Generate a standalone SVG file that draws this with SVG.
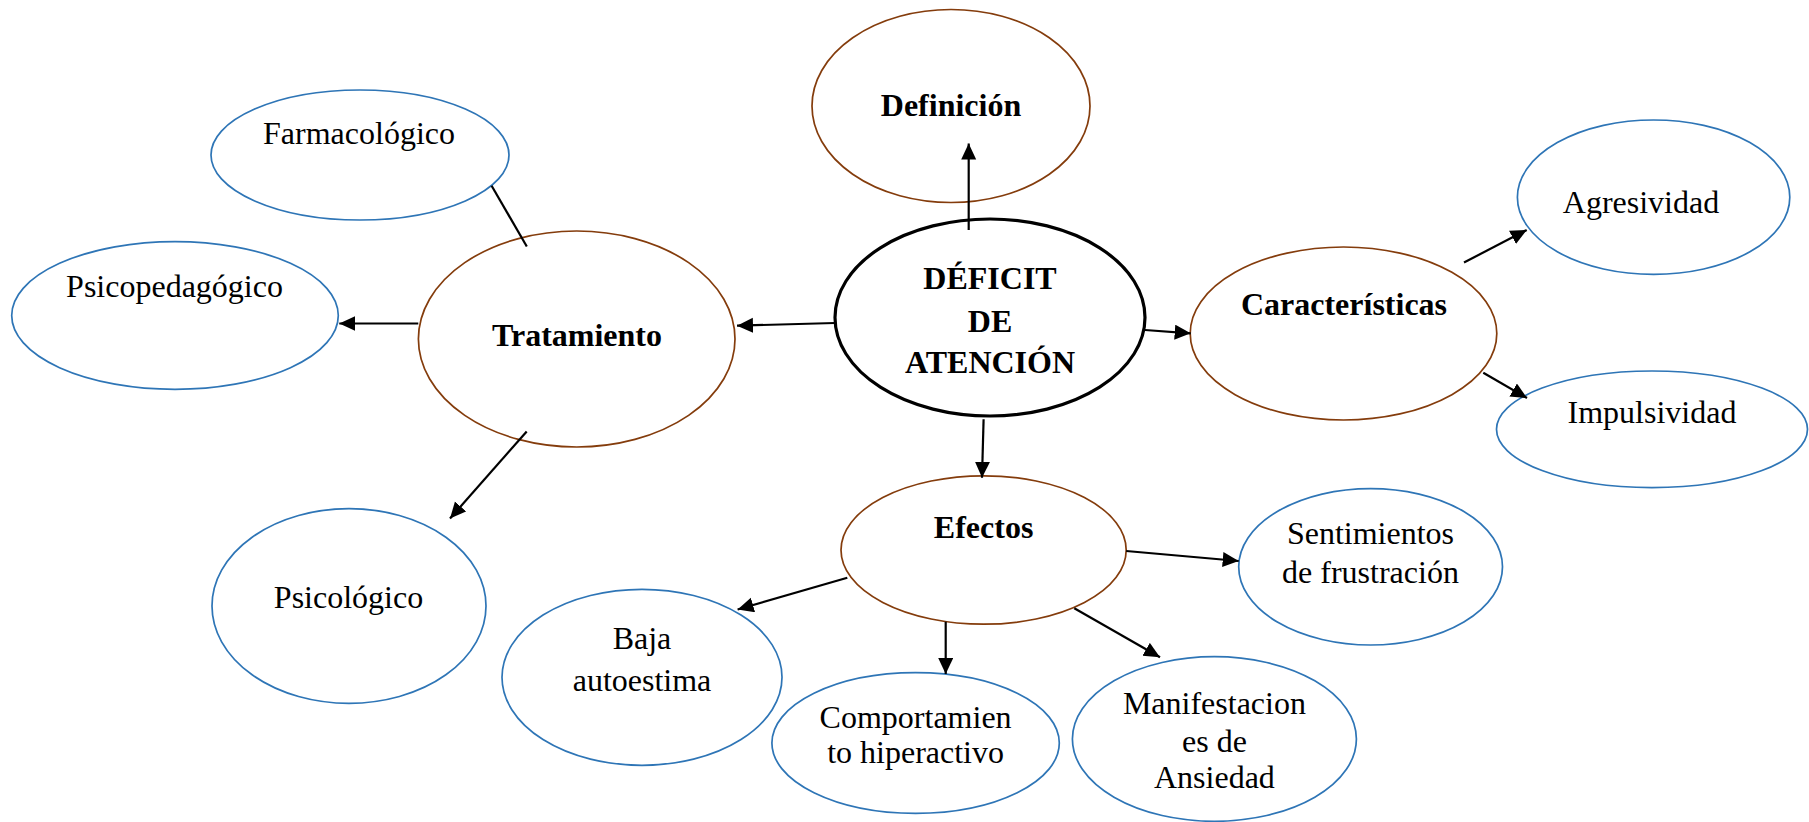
<svg xmlns="http://www.w3.org/2000/svg" width="1809" height="822" viewBox="0 0 1809 822">
<defs>
<marker id="ah" markerUnits="userSpaceOnUse" markerWidth="18" markerHeight="16" refX="16" refY="7.5" orient="auto">
<path d="M0,0 L16,7.5 L0,15 z" fill="#000"/>
</marker>
<style>
.br{fill:#fff;stroke:#843C0C;stroke-width:1.7}
.bl{fill:#fff;stroke:#2E75B6;stroke-width:1.7}
.ct{fill:#fff;stroke:#000;stroke-width:3.2}
text{font-family:"Liberation Serif","Times New Roman",serif;font-size:32px;fill:#000;text-anchor:middle}
.b{font-weight:bold}
.ln{stroke:#000;stroke-width:2.2;fill:none}
.ar{stroke:#000;stroke-width:2.2;fill:none;marker-end:url(#ah)}
</style>
</defs>
<rect width="1809" height="822" fill="#fff"/>
<g id="definicion"><ellipse class="br" cx="951" cy="106" rx="139" ry="96.5"/><text class="b" x="951" y="116">Definición</text></g>
<g id="farmacologico"><ellipse class="bl" cx="360" cy="155" rx="149" ry="65"/><text x="359" y="143.5">Farmacológico</text></g>
<g id="psicopedagogico"><ellipse class="bl" cx="175" cy="315.5" rx="163.3" ry="73.8"/><text x="174.5" y="296.7">Psicopedagógico</text></g>
<g id="tratamiento"><ellipse class="br" cx="576.7" cy="339" rx="158.3" ry="108"/><text class="b" x="577" y="346">Tratamiento</text></g>
<g id="psicologico"><ellipse class="bl" cx="349" cy="606" rx="137" ry="97.3"/><text x="348.5" y="608.3">Psicológico</text></g>
<g id="deficit"><ellipse class="ct" cx="990" cy="317.5" rx="155" ry="98.5"/><text class="b" x="990" y="289">DÉFICIT</text><text class="b" x="990" y="331.5">DE</text><text class="b" x="990" y="373">ATENCIÓN</text></g>
<g id="caracteristicas"><ellipse class="br" cx="1343.5" cy="333.5" rx="153.3" ry="86.5"/><text class="b" x="1344" y="315">Características</text></g>
<g id="agresividad"><ellipse class="bl" cx="1653.6" cy="197.2" rx="136.2" ry="77.2"/><text x="1641" y="213.3">Agresividad</text></g>
<g id="impulsividad"><ellipse class="bl" cx="1652" cy="429.3" rx="155.5" ry="58.3"/><text x="1652" y="423.3">Impulsividad</text></g>
<g id="efectos"><ellipse class="br" cx="983.6" cy="550" rx="142.6" ry="74.2"/><text class="b" x="983.6" y="537.7">Efectos</text></g>
<g id="sentimientos"><ellipse class="bl" cx="1370.6" cy="566.8" rx="131.9" ry="78.2"/><text x="1370.5" y="544.3">Sentimientos</text><text x="1370.5" y="583.3">de frustración</text></g>
<g id="baja"><ellipse class="bl" cx="642" cy="677.3" rx="140" ry="88"/><text x="642" y="649.3">Baja</text><text x="642" y="691">autoestima</text></g>
<g id="comportamiento"><ellipse class="bl" cx="915.6" cy="743" rx="143.7" ry="70.3"/><text x="915.6" y="728">Comportamien</text><text x="915.6" y="763">to hiperactivo</text></g>
<g id="manifestaciones"><ellipse class="bl" cx="1214.4" cy="739" rx="142" ry="82.3"/><text x="1214.4" y="714">Manifestacion</text><text x="1214.4" y="751.5">es de</text><text x="1214.4" y="788.3">Ansiedad</text></g>
<g id="connectors">
<line class="ar" x1="968.7" y1="230" x2="968.7" y2="143.5"/>
<line class="ar" x1="835" y1="323" x2="737" y2="325.7"/>
<line class="ar" x1="1145" y1="330" x2="1190.7" y2="333.3"/>
<line class="ar" x1="983.6" y1="419.3" x2="982" y2="477.7"/>
<line class="ln" x1="491.6" y1="185.7" x2="526.8" y2="246.5"/>
<line class="ar" x1="418.3" y1="323.5" x2="339.3" y2="323.5"/>
<line class="ar" x1="526.7" y1="431.5" x2="450" y2="518.5"/>
<line class="ar" x1="1464" y1="262.5" x2="1526.7" y2="230"/>
<line class="ar" x1="1483.3" y1="372.7" x2="1527" y2="398"/>
<line class="ar" x1="1126.2" y1="551" x2="1238.7" y2="561"/>
<line class="ar" x1="847.3" y1="577.7" x2="737.6" y2="609.5"/>
<line class="ar" x1="945.7" y1="621.7" x2="945.7" y2="674"/>
<line class="ar" x1="1074.3" y1="608.3" x2="1160" y2="657.3"/>
</g>
</svg>
